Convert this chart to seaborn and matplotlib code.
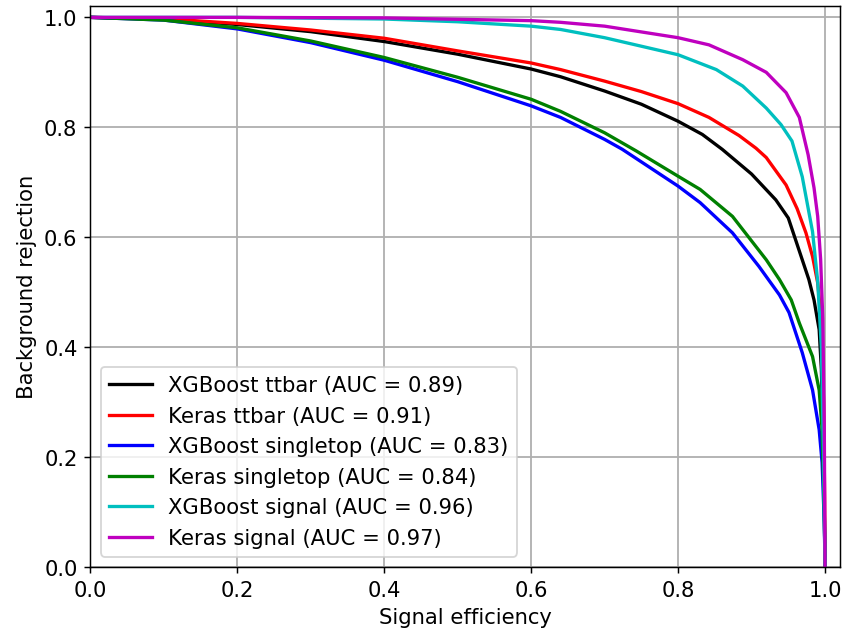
import pandas as pd
import matplotlib
matplotlib.use("Agg")
import matplotlib.pyplot as plt
import seaborn as sns

# ROC curves (signal efficiency, background rejection)
labels = [
    "XGBoost ttbar (AUC = 0.89)",
    "Keras ttbar (AUC = 0.91)",
    "XGBoost singletop (AUC = 0.83)",
    "Keras singletop (AUC = 0.84)",
    "XGBoost signal (AUC = 0.96)",
    "Keras signal (AUC = 0.97)",
]
colors = ["k", "r", "b", "g", "c", "m"]

xgb_ttbar_eff = [0, 0.1, 0.2, 0.3, 0.4, 0.5, 0.6, 0.64, 0.7, 0.75, 0.8, 0.833, 0.86, 0.9, 0.933, 0.95, 0.965, 0.978, 0.985, 0.992, 0.995, 0.997, 0.999, 1.0]
xgb_ttbar_rej = [1, 0.997, 0.987, 0.974, 0.956, 0.933, 0.906, 0.892, 0.866, 0.842, 0.811, 0.787, 0.76, 0.715, 0.668, 0.635, 0.575, 0.523, 0.486, 0.432, 0.36, 0.25, 0.1, 0]

keras_ttbar_eff = [0, 0.1, 0.2, 0.3, 0.4, 0.5, 0.6, 0.64, 0.7, 0.75, 0.8, 0.842, 0.883, 0.906, 0.92, 0.947, 0.962, 0.974, 0.983, 0.99, 0.995, 0.998, 0.9995, 1.0]
keras_ttbar_rej = [1, 0.9975, 0.989, 0.977, 0.962, 0.939, 0.917, 0.905, 0.884, 0.865, 0.843, 0.818, 0.785, 0.762, 0.745, 0.695, 0.652, 0.608, 0.565, 0.517, 0.45, 0.3, 0.12, 0]

xgb_single_eff = [0, 0.1, 0.2, 0.3, 0.4, 0.5, 0.6, 0.64, 0.7, 0.724, 0.8, 0.83, 0.874, 0.91, 0.938, 0.951, 0.969, 0.983, 0.992, 0.996, 0.999, 1.0]
xgb_single_rej = [1, 0.995, 0.979, 0.954, 0.922, 0.883, 0.839, 0.818, 0.778, 0.76, 0.693, 0.663, 0.608, 0.547, 0.495, 0.463, 0.39, 0.322, 0.25, 0.19, 0.08, 0]

keras_single_eff = [0, 0.1, 0.2, 0.3, 0.4, 0.5, 0.6, 0.64, 0.7, 0.743, 0.8, 0.83, 0.874, 0.92, 0.938, 0.954, 0.965, 0.983, 0.992, 0.996, 0.999, 1.0]
keras_single_rej = [1, 0.995, 0.981, 0.957, 0.927, 0.891, 0.851, 0.829, 0.79, 0.757, 0.711, 0.687, 0.638, 0.559, 0.523, 0.486, 0.444, 0.383, 0.322, 0.25, 0.1, 0]

xgb_signal_eff = [0, 0.2, 0.4, 0.5, 0.6, 0.64, 0.7, 0.8, 0.852, 0.888, 0.92, 0.94, 0.955, 0.969, 0.983, 0.99, 0.995, 0.998, 1.0]
xgb_signal_rej = [1, 1.0, 0.997, 0.992, 0.984, 0.978, 0.963, 0.932, 0.905, 0.875, 0.835, 0.805, 0.775, 0.71, 0.61, 0.52, 0.4, 0.2, 0]

keras_signal_eff = [0, 0.2, 0.4, 0.6, 0.64, 0.7, 0.8, 0.842, 0.888, 0.92, 0.947, 0.965, 0.977, 0.985, 0.99, 0.994, 0.997, 0.999, 1.0]
keras_signal_rej = [1, 1.0, 0.999, 0.994, 0.991, 0.984, 0.963, 0.95, 0.923, 0.90, 0.863, 0.818, 0.75, 0.69, 0.638, 0.56, 0.45, 0.25, 0]

curves = [
    (xgb_ttbar_eff, xgb_ttbar_rej),
    (keras_ttbar_eff, keras_ttbar_rej),
    (xgb_single_eff, xgb_single_rej),
    (keras_single_eff, keras_single_rej),
    (xgb_signal_eff, xgb_signal_rej),
    (keras_signal_eff, keras_signal_rej),
]

rows = []
for lab, (eff, rej) in zip(labels, curves):
    for e, r in zip(eff, rej):
        rows.append({"eff": e, "rej": r, "model": lab})
df = pd.DataFrame(rows)

plt.rcParams["font.size"] = 11.5

fig, ax = plt.subplots(figsize=(6.4, 4.8), dpi=132)
sns.lineplot(data=df, x="eff", y="rej", hue="model", hue_order=labels,
             palette=colors, estimator=None, sort=False, linewidth=1.8, ax=ax)
ax.set_xlim(0, 1.02)
ax.set_ylim(0, 1.02)
ax.set_xlabel("Signal efficiency")
ax.set_ylabel("Background rejection")
ax.grid(True, linewidth=1.0)
ax.legend(loc="lower left", title=None)
fig.subplots_adjust(left=0.107, right=0.994, bottom=0.104, top=0.989)
fig.savefig("out.png", dpi=132)
